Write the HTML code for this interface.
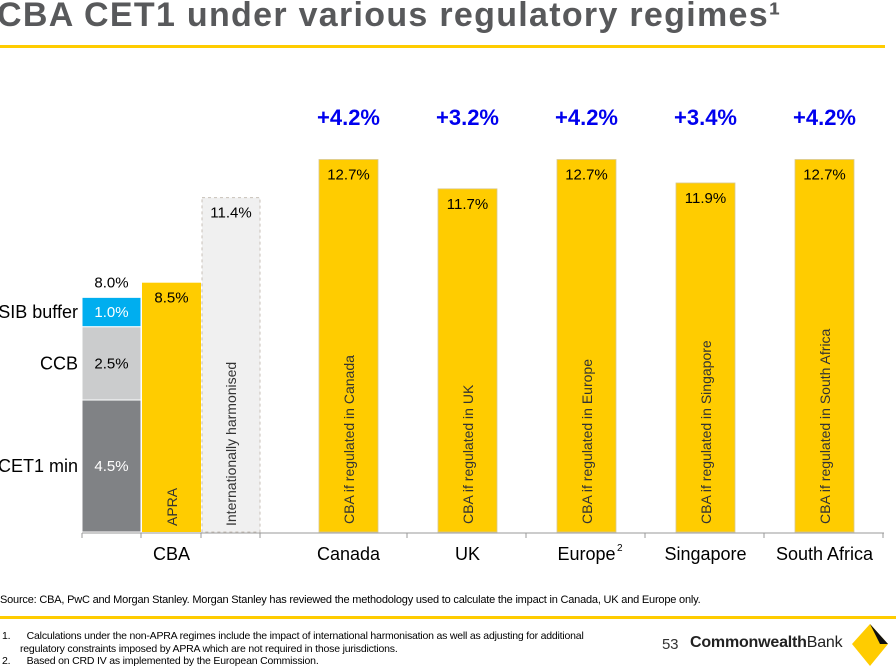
<!DOCTYPE html>
<html><head><meta charset="utf-8"><style>
body{margin:0;background:#fff;font-family:"Liberation Sans",Arial,sans-serif;}
#wrap{position:relative;width:896px;height:666px;overflow:hidden;}
.title{position:absolute;left:-3px;top:-4px;font-size:34px;font-weight:bold;color:#58595b;letter-spacing:1.3px;white-space:nowrap;}
.line{position:absolute;left:0;height:3px;background:#ffcc00;}
.src{position:absolute;left:0;top:594px;font-size:11px;color:#000;white-space:nowrap;letter-spacing:-0.2px}
.note{position:absolute;font-size:10.5px;color:#000;white-space:nowrap;letter-spacing:-0.2px}
</style></head><body><div id="wrap">
<div class="title">CBA CET1 under various regulatory regimes¹</div>
<div class="line" style="top:45px;width:885px"></div>
<svg id="chart" width="896" height="590" style="position:absolute;left:0;top:0"></svg>
<div class="src">Source: CBA, PwC and Morgan Stanley. Morgan Stanley has reviewed the methodology used to calculate the impact in Canada, UK and Europe only.</div>
<div class="line" style="top:616px;width:896px"></div>
<div class="note" style="left:2px;top:630px">1.&nbsp;&nbsp;&nbsp;&nbsp;&nbsp;&nbsp;Calculations under the non-APRA regimes include the impact of international harmonisation as well as adjusting for additional</div>
<div class="note" style="left:20px;top:643px">regulatory constraints imposed by APRA which are not required in those jurisdictions.</div>
<div class="note" style="left:2px;top:655px">2.&nbsp;&nbsp;&nbsp;&nbsp;&nbsp;&nbsp;Based on CRD IV as implemented by the European Commission.</div>
<div class="note" style="left:662px;top:636px;font-size:15px;color:#333">53</div>
<div class="note" style="left:690px;top:634px;font-size:16px;color:#222"><b>Commonwealth</b>Bank</div>
<svg style="position:absolute;left:850px;top:622px" width="40" height="44"><polygon points="20,2 38,22 20,44 2,22" fill="#ffcc00"/><polygon points="20,2 38,22 30,22" fill="#111"/></svg>
</div>
<script>
const stackLabels=["CET1 min","CCB","D-SIB buffer"];
const stackValues=[4.5,2.5,1.0];
const stackTotal="8.0%";
const apraValue=8.5;
const harmValue=11.4;
const countries=["Canada","UK","Europe","Singapore","South Africa"];
const countryValues=[12.7,11.7,12.7,11.9,12.7];
const uplift=["+4.2%","+3.2%","+4.2%","+3.4%","+4.2%"];
const NS="http://www.w3.org/2000/svg";
const svg=document.getElementById('chart');
const base=532, ppu=29.33;
function y(v){return base-v*ppu;}
function el(t,a,txt){const e=document.createElementNS(NS,t);for(const k in a)e.setAttribute(k,a[k]);if(txt!==undefined)e.textContent=txt;svg.appendChild(e);return e;}
const stackColors=["#808285","#cbcccd","#00aeef"];
const stackTextCol=["#fff","#000","#fff"];
let cum=0;
stackValues.forEach((v,i)=>{
 const r=el('rect',{x:82,y:y(cum+v),width:59,height:v*ppu,fill:stackColors[i],stroke:'#fff','stroke-width':1});
 
 
 const t=el('text',{x:111.5,y:y(cum+v/2)+5,'text-anchor':'middle','font-size':15,fill:stackTextCol[i]},v.toFixed(1)+'%');
 
 
 const l=el('text',{x:78,y:y(cum+v/2)+6,'text-anchor':'end','font-size':18,fill:'#000'},stackLabels[i]);
 
 
 cum+=v;
});
let t0=el('text',{x:111.5,y:y(cum)-10,'text-anchor':'middle','font-size':15},stackTotal);


let a=el('rect',{x:142,y:y(apraValue),width:59,height:apraValue*ppu,fill:'#ffcc00'});


let at=el('text',{x:171.5,y:y(apraValue)+20,'text-anchor':'middle','font-size':15},apraValue.toFixed(1)+'%');


let al=el('text',{transform:`translate(177,${base-6}) rotate(-90)`,'font-size':14,fill:'#333'},'APRA');


let h=el('rect',{x:202,y:y(harmValue),width:58,height:harmValue*ppu,fill:'#f0f0f0',stroke:'#c8c0b8','stroke-dasharray':'3,3'});


let ht=el('text',{x:231,y:y(harmValue)+20,'text-anchor':'middle','font-size':15},harmValue.toFixed(1)+'%');


let hl=el('text',{transform:`translate(236,${base-6}) rotate(-90)`,'font-size':14,fill:'#333'},'Internationally harmonised');


const cx0=319, step=119;
countries.forEach((c,i)=>{
 const x=cx0+i*step, v=countryValues[i];
 const r=el('rect',{x:x,y:y(v),width:59,height:v*ppu,fill:'#ffcc00',stroke:'#d8c890','stroke-width':0.8});
 
 
 const t=el('text',{x:x+29.5,y:y(v)+20,'text-anchor':'middle','font-size':15},v.toFixed(1)+'%');
 
 
 const u=el('text',{x:x+29.5,y:125,'text-anchor':'middle','font-size':22,'font-weight':'bold',fill:'#0000ee'},uplift[i]);
 
 
 const l=el('text',{transform:`translate(${x+35},${base-8}) rotate(-90)`,'font-size':14,fill:'#333'},'CBA if regulated in '+c);
 
 
 const cl=el('text',{x:x+29.5,y:560,'text-anchor':'middle','font-size':18},c);
 
 
 if(c==="Europe"){const s=el('text',{x:x+60,y:551,'font-size':10},'2');}
});
let cb=el('text',{x:171.5,y:560,'text-anchor':'middle','font-size':18},'CBA');


let ax=el('line',{x1:82,y1:533,x2:884,y2:533,stroke:'#999','stroke-width':1});


[82,141,201,260].concat(countries.map((c,i)=>cx0+i*step+88)).forEach(tx=>{
 const tk=el('line',{x1:tx,y1:533,x2:tx,y2:538,stroke:'#999'});
 
 
});
</script>
</body></html>
